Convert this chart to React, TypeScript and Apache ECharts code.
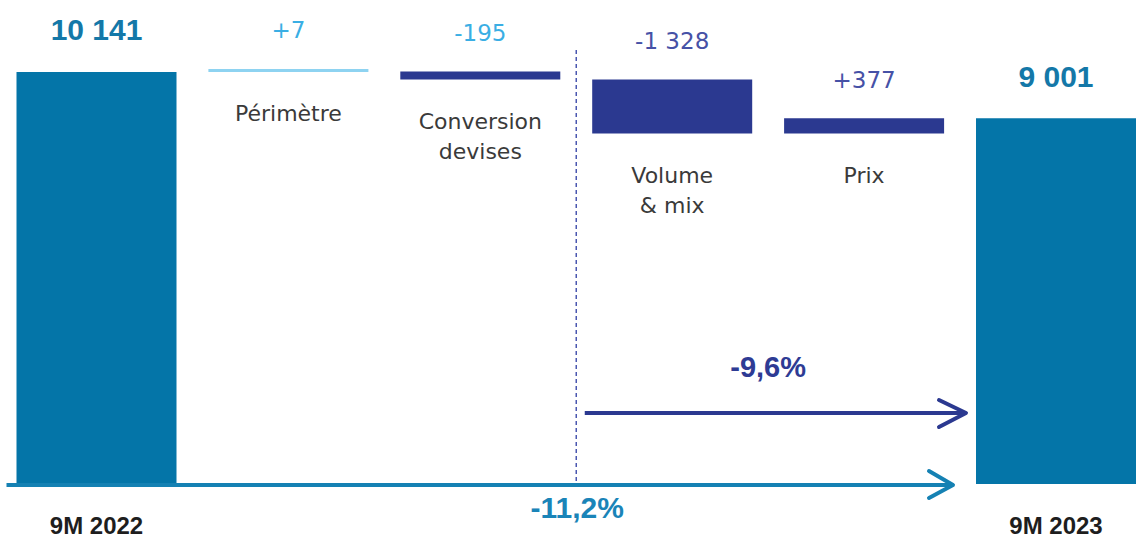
import React, { useEffect, useRef } from 'react';
import * as echarts from 'echarts';

// ---- data ----
const categories = ['9M 2022', 'Périmètre', 'Conversion\ndevises', 'Volume\n& mix', 'Prix', '9M 2023'];
const startValue = 10141;
const changes = [7, -195, -1328, 377];
const endValue = 9001;
const valueLabels = ['10 141', '+7', '-195', '-1 328', '+377', '9 001'];
const arrowLabels = ['-9,6%', '-11,2%'];

// ---- styles ----
const TEAL = '#0475a8';
const NAVY = '#2b3990';
const SKY = '#8ed3f1';
const barColors = [TEAL, SKY, NAVY, NAVY, NAVY, TEAL];
const labelColors = ['#1478a8', '#3aaee4', '#3aaee4', '#4651a6', '#4651a6', '#1478a8'];
const REG = '"DejaVu Sans", sans-serif';
const BOLD = '"Liberation Sans", Arial, sans-serif';

function buildWaterfall() {
  const base: number[] = [0];
  const delta: number[] = [startValue];
  let running = startValue;
  changes.forEach((c) => {
    if (c >= 0) {
      base.push(running);
      delta.push(c);
      running += c;
    } else {
      running += c;
      base.push(running);
      delta.push(-c);
    }
  });
  base.push(0);
  delta.push(endValue);
  return { base, delta };
}

export default function App() {
  const ref = useRef<HTMLDivElement>(null);

  useEffect(() => {
    if (!ref.current) return;
    const chart = echarts.init(ref.current, undefined, { renderer: 'svg' });
    const { base, delta } = buildWaterfall();
    const last = categories.length - 1;

    chart.setOption({
      animation: false,
      grid: { left: 96.5, top: 37, width: 959.5, height: 447, containLabel: false },
      xAxis: {
        type: 'category',
        data: categories,
        boundaryGap: false,
        axisLine: { show: false },
        axisTick: { show: false },
        splitLine: { show: false },
        axisLabel: {
          interval: 0,
          margin: 29,
          fontSize: 24,
          fontWeight: 'bold',
          fontFamily: BOLD,
          color: '#1e1e1e',
          formatter: (v: string, i: number) => (i === 0 || i === last ? v : ''),
        },
      },
      yAxis: { type: 'value', min: 0, max: 11000, show: false, splitLine: { show: false } },
      series: [
        {
          type: 'bar',
          stack: 'w',
          barWidth: 160,
          silent: true,
          itemStyle: { color: 'transparent' },
          label: {
            position: 'insideTop',
            distance: 27,
            fontSize: 22,
            lineHeight: 30,
            fontFamily: REG,
            color: '#3a3a3a',
            formatter: (p: any) => categories[p.dataIndex],
          },
          data: base.map((b, i) => ({ value: b, label: { show: i > 0 && i < last } })),
        },
        {
          type: 'bar',
          stack: 'w',
          barWidth: 160,
          barMinHeight: 3,
          label: {
            show: true,
            position: 'top',
            distance: 27,
            formatter: (p: any) => valueLabels[p.dataIndex],
          },
          data: delta.map((d, i) => {
            const total = i === 0 || i === last;
            return {
              value: d,
              itemStyle: { color: barColors[i] },
              label: {
                color: labelColors[i],
                fontSize: total ? 30 : 23,
                fontWeight: total ? 'bold' : 'normal',
                fontFamily: total ? BOLD : REG,
              },
            };
          }),
        },
      ],
    });

    const px = (ci: number, v: number) =>
      chart.convertToPixel({ xAxisIndex: 0, yAxisIndex: 0 }, [ci, v]) as number[];
    const y0 = px(0, 0)[1] + 1;
    const c0 = px(0, 0)[0];
    const step = px(1, 0)[0] - c0;
    const half = 80;
    const lastLeft = px(last, 0)[0] - half;
    const divider = px(2, 0)[0] + step / 2;
    const midVP = px(3, 0)[0] + step / 2;

    const baseEnd = lastLeft - 23;
    const navyStart = divider + 8.5;
    const navyEnd = lastLeft - 10;
    const navyY = y0 - 72;

    chart.setOption({
      graphic: [
        {
          type: 'line',
          silent: true,
          shape: { x1: divider, y1: y0 - 435, x2: divider, y2: y0 },
          style: { stroke: '#4a57b0', lineWidth: 1.5, lineDash: [4, 3] },
          z: 1,
        },
        {
          type: 'line',
          silent: true,
          shape: { x1: c0 - 90, y1: y0, x2: baseEnd, y2: y0 },
          style: { stroke: '#1581b3', lineWidth: 4 },
          z: 10,
        },
        {
          type: 'polyline',
          silent: true,
          shape: { points: [[baseEnd - 24, y0 - 14], [baseEnd, y0], [baseEnd - 24, y0 + 13]] },
          style: { stroke: '#1581b3', lineWidth: 4, fill: 'none', lineJoin: 'round', lineCap: 'round' },
          z: 10,
        },
        {
          type: 'line',
          silent: true,
          shape: { x1: navyStart, y1: navyY, x2: navyEnd, y2: navyY },
          style: { stroke: NAVY, lineWidth: 4 },
          z: 10,
        },
        {
          type: 'polyline',
          silent: true,
          shape: { points: [[navyEnd - 27, navyY - 13], [navyEnd, navyY], [navyEnd - 27, navyY + 14]] },
          style: { stroke: NAVY, lineWidth: 4, fill: 'none', lineJoin: 'round', lineCap: 'round' },
          z: 10,
        },
        {
          type: 'text',
          silent: true,
          x: midVP,
          y: y0 - 118,
          style: {
            text: arrowLabels[0],
            fill: '#2e3b94',
            fontSize: 29,
            fontWeight: 'bold',
            fontFamily: BOLD,
            align: 'center',
            verticalAlign: 'middle',
          },
          z: 10,
        },
        {
          type: 'text',
          silent: true,
          x: divider + 1,
          y: y0 + 22,
          style: {
            text: arrowLabels[1],
            fill: '#1a84b8',
            fontSize: 30,
            fontWeight: 'bold',
            fontFamily: BOLD,
            align: 'center',
            verticalAlign: 'middle',
          },
          z: 10,
        },
      ],
    });

    return () => chart.dispose();
  }, []);

  return (
    <div
      ref={ref}
      style={{ position: 'absolute', left: 0, top: 0, width: 1139, height: 537, background: '#fff' }}
    />
  );
}
